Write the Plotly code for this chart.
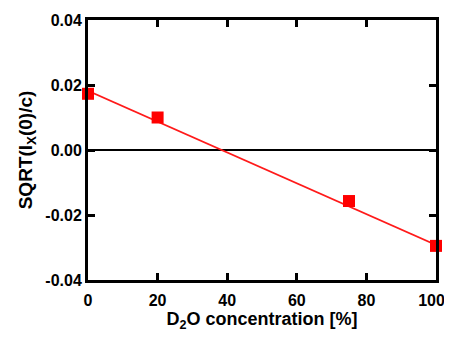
import plotly.graph_objects as go

d2o = [0, 20, 75, 100]
sqrt_i = [0.0173, 0.0100, -0.0157, -0.0295]
fit_x = [0, 100]
fit_y = [0.0182, -0.0292]
x_ticks = [0, 20, 40, 60, 80, 100]
y_ticks = [0.04, 0.02, 0.0, -0.02, -0.04]

x_labels = ["<b>%d</b>" % v for v in x_ticks]
x_labels[-1] = x_labels[-1] + "\u00a0\u00a0"

fig = go.Figure()
fig.add_trace(go.Scatter(x=[0, 100], y=[0, 0], mode="lines",
                         line=dict(color="black", width=2), hoverinfo="skip"))
fig.add_trace(go.Scatter(x=fit_x, y=fit_y, mode="lines",
                         line=dict(color="#ff1a1a", width=1.6)))
fig.add_trace(go.Scatter(x=d2o, y=sqrt_i, mode="markers", cliponaxis=False,
                         marker=dict(symbol="square", size=12, color="#ff0000")))

font = dict(family="Liberation Sans, Arial, sans-serif", color="black")
fig.update_layout(
    width=436, height=324, showlegend=False,
    margin=dict(l=80, r=8, t=12, b=52, autoexpand=False),
    paper_bgcolor="white", plot_bgcolor="white",
    font=font,
)
fig.update_xaxes(range=[0, 100], tickvals=x_ticks, automargin=False,
                 ticktext=x_labels, ticklabeloverflow="allow",
                 ticks="inside", ticklen=7, tickwidth=3, tickcolor="black",
                 showline=True, linewidth=3, linecolor="black", mirror="ticks",
                 showgrid=False, zeroline=False, tickfont=dict(size=16),
                 ticklabelstandoff=4,
                 title=dict(text="<b>D<sub>2</sub>O concentration [%]</b>", font=dict(size=18), standoff=10))
fig.update_yaxes(range=[-0.04, 0.04], tickvals=y_ticks, automargin=False,
                 ticktext=["<b>%.2f</b>" % v for v in y_ticks],
                 ticks="inside", ticklen=7, tickwidth=3, tickcolor="black",
                 showline=True, linewidth=3, linecolor="black", mirror="ticks",
                 showgrid=False, zeroline=False, tickfont=dict(size=16),
                 title=dict(text="<b>SQRT(I<sub>X</sub>(0)/c)</b>", font=dict(size=19), standoff=8))
fig.write_html("out.html")
